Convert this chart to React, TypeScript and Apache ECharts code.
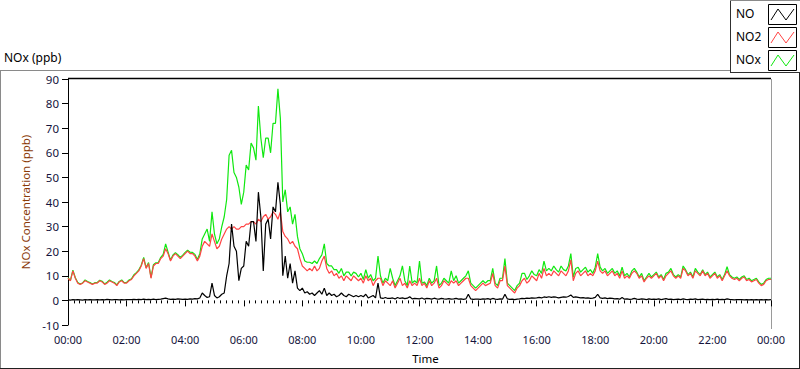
import React, { useEffect, useRef } from "react";
import * as echarts from "echarts";

// 5-minute samples from 00:00 to 24:00 (12 per hour + final point)
const NO2: number[] = [
  9, 8, 12, 9, 7, 6.5, 7, 8, 7.5, 7, 6.5, 7,
  7, 8, 7.5, 6.5, 7, 8, 7.5, 7, 6, 7.5, 8, 7,
  7, 8, 8.5, 10, 11, 12, 14, 17, 13, 15, 9, 14,
  15, 15, 17, 18, 21, 19, 16, 18, 19, 18, 17, 18,
  19, 20, 19, 19, 18, 16, 18, 22, 24, 23, 22, 27,
  24, 21, 22, 25, 27, 29, 30, 29, 30, 29, 29, 30,
  30, 31, 31, 32, 32, 31, 33, 32, 34, 35, 33, 34,
  36, 35, 33, 36, 28, 26, 25, 23, 24, 22, 21, 17,
  14, 13, 12, 13, 12, 14, 12, 13, 16, 18, 13, 11,
  12, 10, 11, 9, 10, 8, 10, 9, 8, 10, 9, 8,
  9, 7, 10, 8, 9, 6, 8, 9, 9, 6, 8, 7,
  6, 8, 5, 7, 9, 6, 7, 5, 8, 6, 7, 6,
  9, 6, 7, 5, 8, 6, 7, 9, 5, 6, 8, 7,
  6, 8, 7, 8, 6, 7, 8, 9, 9, 6, 5, 4,
  5, 6, 7, 6, 6.5, 7, 11, 6, 5, 8, 8, 14,
  6, 5, 4, 3, 5, 6, 8, 9, 7, 8, 10, 9,
  8, 11, 9, 13, 10, 11, 10, 12, 11, 10, 12, 11,
  10, 12, 16.5, 8, 11, 12, 10, 11, 12, 10, 11, 10,
  12, 16, 12, 11, 12, 10, 11, 12, 10, 11, 9, 12,
  9, 10, 9, 11, 12, 11, 9, 10, 7.5, 9, 10, 9,
  10, 11, 9, 10, 8, 10, 11, 12, 10, 9, 10, 9,
  13, 12, 10, 11, 9, 12, 11, 10, 12, 10, 11, 9,
  10, 11, 9, 10, 8, 10, 12, 10, 9, 8.5, 9, 8,
  9, 9.5, 8, 8.5, 7.5, 8, 8.5, 7, 6, 6.5, 8, 8.5,
  8.5,
];

const NO: number[] = [
  0.2, 0.1, 0.3, 0.2, 0.3, 0.2, 0.1, 0.3, 0.2, 0.3, 0.2, 0.2,
  0.3, 0.2, 0.3, 0.2, 0.4, 0.3, 0.2, 0.3, 0.3, 0.2, 0.3, 0.2,
  0.3, 0.3, 0.3, 0.4, 0.3, 0.4, 0.3, 0.5, 0.3, 0.4, 0.3, 0.5,
  0.3, 0.4, 0.5, 0.7, 0.9, 0.6, 0.4, 0.5, 0.4, 0.6, 0.5, 0.4,
  0.5, 0.4, 0.6, 0.5, 0.7, 0.6, 1, 3, 2, 1.2, 1.5, 7,
  2, 1, 1.5, 2.5, 3, 10, 15, 31, 22, 20, 8, 13,
  14, 24, 22, 32, 32, 24, 44, 34, 12, 31, 33, 25,
  38, 36, 48, 39, 10, 18, 9, 15, 7, 12, 5, 4,
  5, 3, 3.5, 2.5, 3, 2, 3, 4, 2.5, 5, 2, 3,
  2, 2.5, 1.5, 2, 3, 2, 1.5, 2.5, 2, 1.5, 2, 1.5,
  2, 1.5, 2.5, 1, 1.5, 2, 1, 7, 1, 0.8, 1.2, 0.8,
  0.8, 1, 0.6, 1.2, 0.8, 1, 0.7, 0.9, 1.5, 0.6, 0.8, 0.7,
  0.6, 1, 0.5, 0.8, 0.7, 0.5, 0.9, 0.6, 0.5, 0.8, 0.6, 0.5,
  0.7, 0.5, 0.6, 0.8, 0.5, 0.6, 0.4, 0.6, 2.5, 0.6, 0.4, 0.5,
  0.5, 0.4, 0.6, 0.5, 0.7, 0.4, 0.8, 0.5, 0.4, 0.6, 0.5, 2.5,
  0.6, 0.4, 0.5, 0.3, 0.5, 0.6, 0.8, 0.7, 0.9, 0.8, 1, 0.9,
  1, 1.2, 1, 1.4, 1.2, 1.5, 1.2, 1.4, 1.3, 1, 1.2, 1.4,
  1.3, 1.6, 2.2, 1.2, 1.4, 1.2, 1, 1.1, 0.9, 1, 0.8, 0.9,
  1.2, 2.5, 1, 0.8, 1, 0.7, 0.9, 0.8, 0.6, 0.7, 0.5, 1.2,
  0.5, 0.6, 0.4, 0.5, 0.8, 0.5, 0.4, 0.6, 0.5, 0.3, 0.6, 0.4,
  0.5, 0.4, 0.6, 0.3, 0.5, 0.7, 0.4, 0.5, 0.3, 0.4, 0.5, 0.3,
  0.6, 0.4, 0.3, 0.5, 0.4, 0.6, 0.3, 0.4, 0.5, 0.3, 0.4, 0.3,
  0.4, 0.3, 0.5, 0.3, 0.4, 0.3, 0.6, 0.4, 0.3, 0.2, 0.3, 0.3,
  0.3, 0.2, 0.3, 0.2, 0.3, 0.2, 0.3, 0.2, 0.3, 0.2, 0.3, 0.2,
  0.3,
];

const NOX: number[] = [
  9.2, 8.1, 12.3, 9.2, 7.3, 6.7, 7.1, 8.3, 7.7, 7.3, 6.7, 7.2,
  7.3, 8.2, 7.8, 6.7, 7.4, 8.3, 7.7, 7.3, 6.3, 7.7, 8.3, 7.2,
  7.3, 8.3, 8.8, 10.4, 11.3, 12.4, 14.3, 17.5, 13.3, 15.4, 9.3, 14.5,
  15.3, 15.4, 17.5, 18.7, 23, 19.6, 16.4, 18.5, 19.4, 18.6, 17.5, 18.4,
  19.5, 20.4, 19.6, 19.5, 18.7, 16.6, 19, 25, 27, 29, 24, 36,
  27, 23, 25, 30, 34, 41, 59, 61, 52, 50, 46, 39,
  44, 55, 53, 64, 62, 57, 79, 66, 58, 66, 66, 60,
  72, 72, 86, 74, 40, 45, 36, 38, 31, 35, 26, 21,
  19, 16, 15.5, 15.5, 15, 16, 15, 17, 18.5, 23, 15, 14,
  14, 12.5, 12.5, 11, 13, 10, 11.5, 11.5, 10, 11.5, 11, 9.5,
  11, 8.5, 12.5, 9, 10.5, 8, 9, 18, 10, 7, 9, 8,
  13, 9, 6, 8, 10, 14, 8, 6, 14, 7, 8, 7,
  16, 7, 7.5, 6, 9, 7, 8, 14, 6, 7, 9, 8,
  7, 12, 8, 10, 7, 8, 9, 10, 12, 7, 6, 5,
  6, 7, 8, 7, 8, 8, 13, 7, 6, 9, 9, 17,
  7, 6, 5, 4, 6, 7, 11, 11, 8.5, 10, 12, 10.5,
  10, 12.5, 11, 16, 12, 13, 12, 14, 12.5, 11.5, 14, 12.5,
  12, 14, 19, 9.5, 13, 13.5, 11.5, 12.5, 13.5, 11.5, 12.5, 11,
  13.5, 19, 13.5, 12, 13, 11, 12, 13, 11, 12, 10, 13.5,
  10, 11, 9.5, 12, 13, 11.5, 9.5, 11, 8, 9.5, 11, 9.5,
  10.5, 11.5, 9.5, 10.5, 8.5, 11, 11.5, 13, 10.5, 9.5, 10.5, 9.5,
  14, 12.5, 10.5, 11.5, 9.5, 13, 11.5, 10.5, 12.5, 10.5, 11.5, 9.5,
  10.5, 11.5, 9.5, 10.5, 8.5, 10.5, 13.7, 10.5, 9.5, 9, 9.5, 8.5,
  9.5, 10, 8.5, 9, 8, 8.5, 9, 7.5, 6.5, 7, 8.5, 9,
  9,
];

const STEP_MINUTES = 5;
const TIME_LABELS = [
  "00:00", "02:00", "04:00", "06:00", "08:00", "10:00", "12:00",
  "14:00", "16:00", "18:00", "20:00", "22:00", "00:00",
];
const SERIES_NAMES = ["NO", "NO2", "NOx"];
const SERIES_COLORS = ["#000000", "#ff4444", "#10e810"];

const FONT = "'Noto Sans', 'Open Sans', sans-serif";

export default function App() {
  const ref = useRef<HTMLDivElement>(null);

  useEffect(() => {
    document.body.style.margin = "0";
    if (!ref.current) return;
    const chart = echarts.init(ref.current, undefined, { renderer: "svg" });

    const toPairs = (arr: number[]) => arr.map((v, i) => [i * STEP_MINUTES, v]);

    const gridLeft = 68;
    const gridTop = 79;
    const gridW = 703;
    const gridH = 250;

    const legendItems = SERIES_NAMES.map((name, i) => {
      const top = 4 + i * 23;
      return [
        {
          type: "text",
          left: 736,
          top: top + 3,
          style: { text: name, fontSize: 12, fontFamily: FONT, fill: "#000" },
        },
        {
          type: "rect",
          shape: { x: 768.5, y: top + 0.5, width: 28, height: 20 },
          style: { fill: "#fff", stroke: "#000", lineWidth: 1 },
        },
        {
          type: "polyline",
          shape: {
            points: [
              [771, top + 16],
              [778, top + 5],
              [786, top + 16],
              [794, top + 5],
            ],
          },
          style: { stroke: SERIES_COLORS[i], lineWidth: 1, fill: "none" },
        },
      ];
    }).flat();

    const lineSeries = (name: string, arr: number[], color: string) => ({
      name,
      type: "line",
      data: toPairs(arr),
      showSymbol: false,
      symbol: "none",
      lineStyle: { color, width: 1.2 },
      itemStyle: { color },
    });

    const option: any = {
      animation: false,
      backgroundColor: "#ffffff",
      textStyle: { fontFamily: FONT },
      grid: { left: gridLeft, top: gridTop, width: gridW, height: gridH },
      xAxis: {
        type: "value",
        min: 0,
        max: 1440,
        interval: 120,
        axisLine: { show: false },
        axisTick: { show: true, length: 6, lineStyle: { color: "#000" } },
        minorTick: { show: true, splitNumber: 10, length: 3, lineStyle: { color: "#000" } },
        splitLine: { show: false },
        axisLabel: {
          fontSize: 11,
          fontFamily: FONT,
          color: "#14143c",
          margin: 9,
          formatter: (v: number) => TIME_LABELS[Math.round(v / 120)] ?? "",
        },
        name: "Time",
        nameLocation: "middle",
        nameGap: 27,
        nameTextStyle: { fontSize: 11.5, fontFamily: FONT, color: "#000", padding: [0, 0, 0, 12] },
      },
      yAxis: {
        type: "value",
        min: -10,
        max: 90,
        interval: 10,
        axisLine: { show: true, lineStyle: { color: "#000" } },
        axisTick: { show: true, length: 6, lineStyle: { color: "#000" } },
        splitLine: { show: false },
        axisLabel: { fontSize: 11.5, fontFamily: FONT, color: "#14143c", margin: 9 },
        name: "NOx Concentration (ppb)",
        nameLocation: "middle",
        nameRotate: 90,
        nameGap: 32,
        nameTextStyle: { fontSize: 11.5, fontFamily: FONT, color: "#8a3a08" },
      },
      series: [
        lineSeries("NOx", NOX, SERIES_COLORS[2]),
        lineSeries("NO2", NO2, SERIES_COLORS[1]),
        lineSeries("NO", NO, SERIES_COLORS[0]),
      ],
      graphic: [
        // outer frame
        { type: "line", shape: { x1: 0, y1: 70.5, x2: 730, y2: 70.5 }, style: { stroke: "#8a8a8a", lineWidth: 1 } },
        { type: "line", shape: { x1: 0.5, y1: 70, x2: 0.5, y2: 368 }, style: { stroke: "#8a8a8a", lineWidth: 1 } },
        { type: "line", shape: { x1: 0, y1: 368.5, x2: 800, y2: 368.5 }, style: { stroke: "#202020", lineWidth: 1 } },
        { type: "line", shape: { x1: 799.5, y1: 72, x2: 799.5, y2: 369 }, style: { stroke: "#202020", lineWidth: 1 } },
        // legend box
        { type: "line", shape: { x1: 730.5, y1: 0, x2: 730.5, y2: 72 }, style: { stroke: "#303030", lineWidth: 1 } },
        { type: "line", shape: { x1: 730, y1: 72.5, x2: 800, y2: 72.5 }, style: { stroke: "#303030", lineWidth: 1 } },
        { type: "line", shape: { x1: 730, y1: 0.5, x2: 800, y2: 0.5 }, style: { stroke: "#8a8a8a", lineWidth: 1 } },
        ...legendItems,
        // plot frame
        {
          type: "line",
          shape: { x1: gridLeft, y1: gridTop - 0.5, x2: gridLeft + gridW, y2: gridTop - 0.5 },
          style: { stroke: "#000", lineWidth: 1.5 },
        },
        {
          type: "line",
          shape: { x1: gridLeft + gridW + 0.5, y1: gridTop, x2: gridLeft + gridW + 0.5, y2: gridTop + gridH },
          style: { stroke: "#9a9a9a", lineWidth: 1 },
        },
        // title
        {
          type: "text",
          left: 4,
          top: 51,
          style: { text: "NOx (ppb)", fontSize: 12, fontFamily: FONT, fill: "#000" },
        },
      ],
    };

    chart.setOption(option);
    return () => chart.dispose();
  }, []);

  return <div ref={ref} style={{ width: 800, height: 369 }} />;
}
